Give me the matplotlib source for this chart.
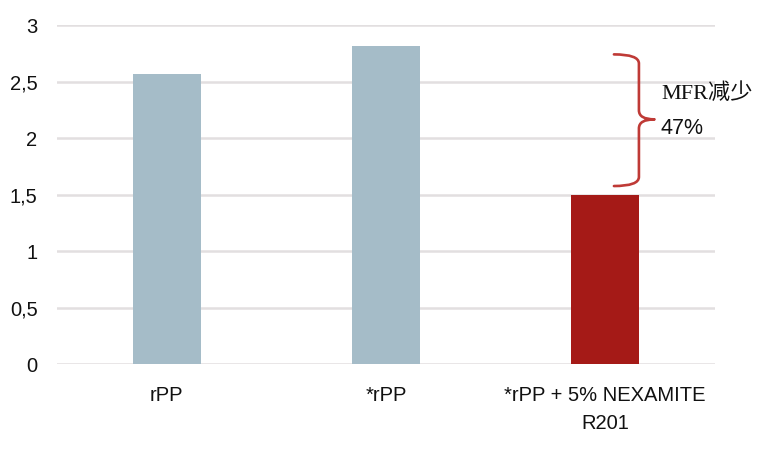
import matplotlib.pyplot as plt
from matplotlib.path import Path
from matplotlib.patches import PathPatch

categories = ["rPP", "*rPP", "*rPP + 5% NEXAMITE\nR201"]
mfr_values = [2.57, 2.81, 1.50]
bar_colors = ["#a5bcc8", "#a5bcc8", "#a51a17"]
y_ticks = [0, 0.5, 1, 1.5, 2, 2.5, 3]
y_tick_labels = ["0", "0,5", "1", "1,5", "2", "2,5", "3"]
note_label = "MFR减少"
note_value = "47%"

plt.rcParams['font.family'] = ['Liberation Sans', 'DejaVu Sans']

fig = plt.figure(figsize=(7.73, 4.49), dpi=100)
ax = fig.add_axes([0.0737, 0.1893, 0.851, 0.755])

x = list(range(len(categories)))
ax.bar(x, mfr_values, width=0.31, color=bar_colors, zorder=3)

ax.set_xlim(-0.5, 2.5)
ax.set_ylim(0, 3)
ax.set_yticks(y_ticks)
ax.set_yticklabels(y_tick_labels, fontsize=14.5, color="#111111")
ax.set_xticks(x)
ax.set_xticklabels(categories, fontsize=14.5, color="#111111", linespacing=1.6)
ax.tick_params(axis="y", length=0, pad=14)
ax.tick_params(axis="x", length=0, pad=16)
ax.grid(axis="y", color="#e2dfe0", linewidth=1.8, zorder=0)
for s in ax.spines.values():
    s.set_visible(False)

# curly brace showing the drop between *rPP and the NEXAMITE blend
x0, x1, x2 = 2.04, 2.154, 2.225
y_hi, y_lo, y_mid = 2.74, 1.575, 2.165
r = 0.08
verts = [
    (x0, y_hi), (x1, y_hi), (x1, y_hi - r),
    (x1, y_mid + r),
    (x1, y_mid), (x2, y_mid),
    (x1, y_mid), (x1, y_mid - r),
    (x1, y_lo + r),
    (x1, y_lo), (x0, y_lo),
]
codes = [
    Path.MOVETO, Path.CURVE3, Path.CURVE3,
    Path.LINETO,
    Path.CURVE3, Path.CURVE3,
    Path.CURVE3, Path.CURVE3,
    Path.LINETO,
    Path.CURVE3, Path.CURVE3,
]
brace = PathPatch(Path(verts, codes), fill=False, edgecolor="#bf3a36",
                  linewidth=1.9, capstyle="round", joinstyle="round",
                  clip_on=False, zorder=4)
ax.add_patch(brace)

ax.text(2.255, 2.345, note_label, fontsize=16, color="#111111",
        family=['Liberation Serif', 'Noto Sans CJK SC'],
        ha="left", va="baseline", clip_on=False)
ax.text(2.252, 2.035, note_value, fontsize=15.5, color="#111111",
        ha="left", va="baseline", clip_on=False)

fig.savefig("out.png", dpi=100)
